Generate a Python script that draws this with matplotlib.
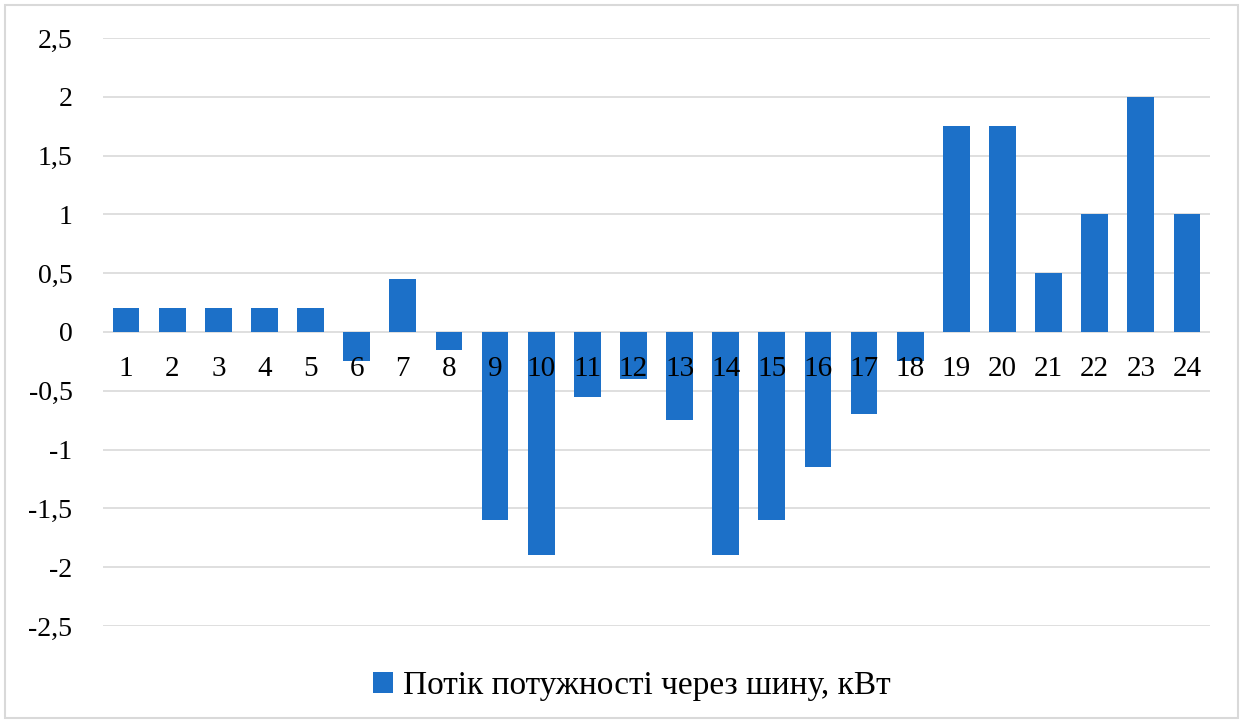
import matplotlib
matplotlib.use('Agg')
import matplotlib.pyplot as plt
from matplotlib.patches import Rectangle

# hours and power flow through the bus, kW
hours = list(range(1, 25))
flow = [0.2, 0.2, 0.2, 0.2, 0.2, -0.25, 0.45, -0.15, -1.6, -1.9, -0.55, -0.4,
        -0.75, -1.9, -1.6, -1.15, -0.7, -0.25, 1.75, 1.75, 0.5, 1.0, 2.0, 1.0]
yticks = [-2.5, -2, -1.5, -1, -0.5, 0, 0.5, 1, 1.5, 2, 2.5]
ytick_labels = [f'{v:g}'.replace('.', ',') for v in yticks]
series_name = 'Потік потужності через шину, кВт'

plt.rcParams['font.family'] = ['Liberation Serif', 'DejaVu Serif']

fig = plt.figure(figsize=(12.44, 7.24), dpi=100)
ax = fig.add_axes([0.0828, 0.1354, 0.8899, 0.8121])

bar_color = '#1c70c8'
ax.bar(hours, flow, width=0.58, color=bar_color, zorder=3, label=series_name)

ax.set_xlim(0.5, 24.5)
ax.set_ylim(-2.5, 2.5)
ax.set_yticks(yticks)
ax.set_yticklabels(ytick_labels)
ax.set_xticks(hours)
ax.set_xticklabels([str(h) for h in hours])

ax.grid(axis='y', color='#d9d9d9', linewidth=1.2)
ax.yaxis.set_zorder(0)
ax.xaxis.set_zorder(5)  # hour labels sit on top of the bars
for s in ['top', 'right', 'left']:
    ax.spines[s].set_visible(False)
ax.spines['bottom'].set_position(('data', 0))
ax.spines['bottom'].set_visible(False)
ax.tick_params(axis='y', length=0, pad=22, labelsize=20)
ax.tick_params(axis='x', length=0, pad=17, labelsize=21)

leg = fig.legend(loc='center', bbox_to_anchor=(0.508, 0.053), frameon=False,
                 fontsize=24, handlelength=0.6, handleheight=0.6, handletextpad=0.3)

# outer chart border
fig.patches.append(Rectangle((0.004, 0.008), 0.991, 0.985, transform=fig.transFigure,
                             fill=False, edgecolor='#d9d9d9', linewidth=1.5))

plt.savefig('out.png', dpi=100)
